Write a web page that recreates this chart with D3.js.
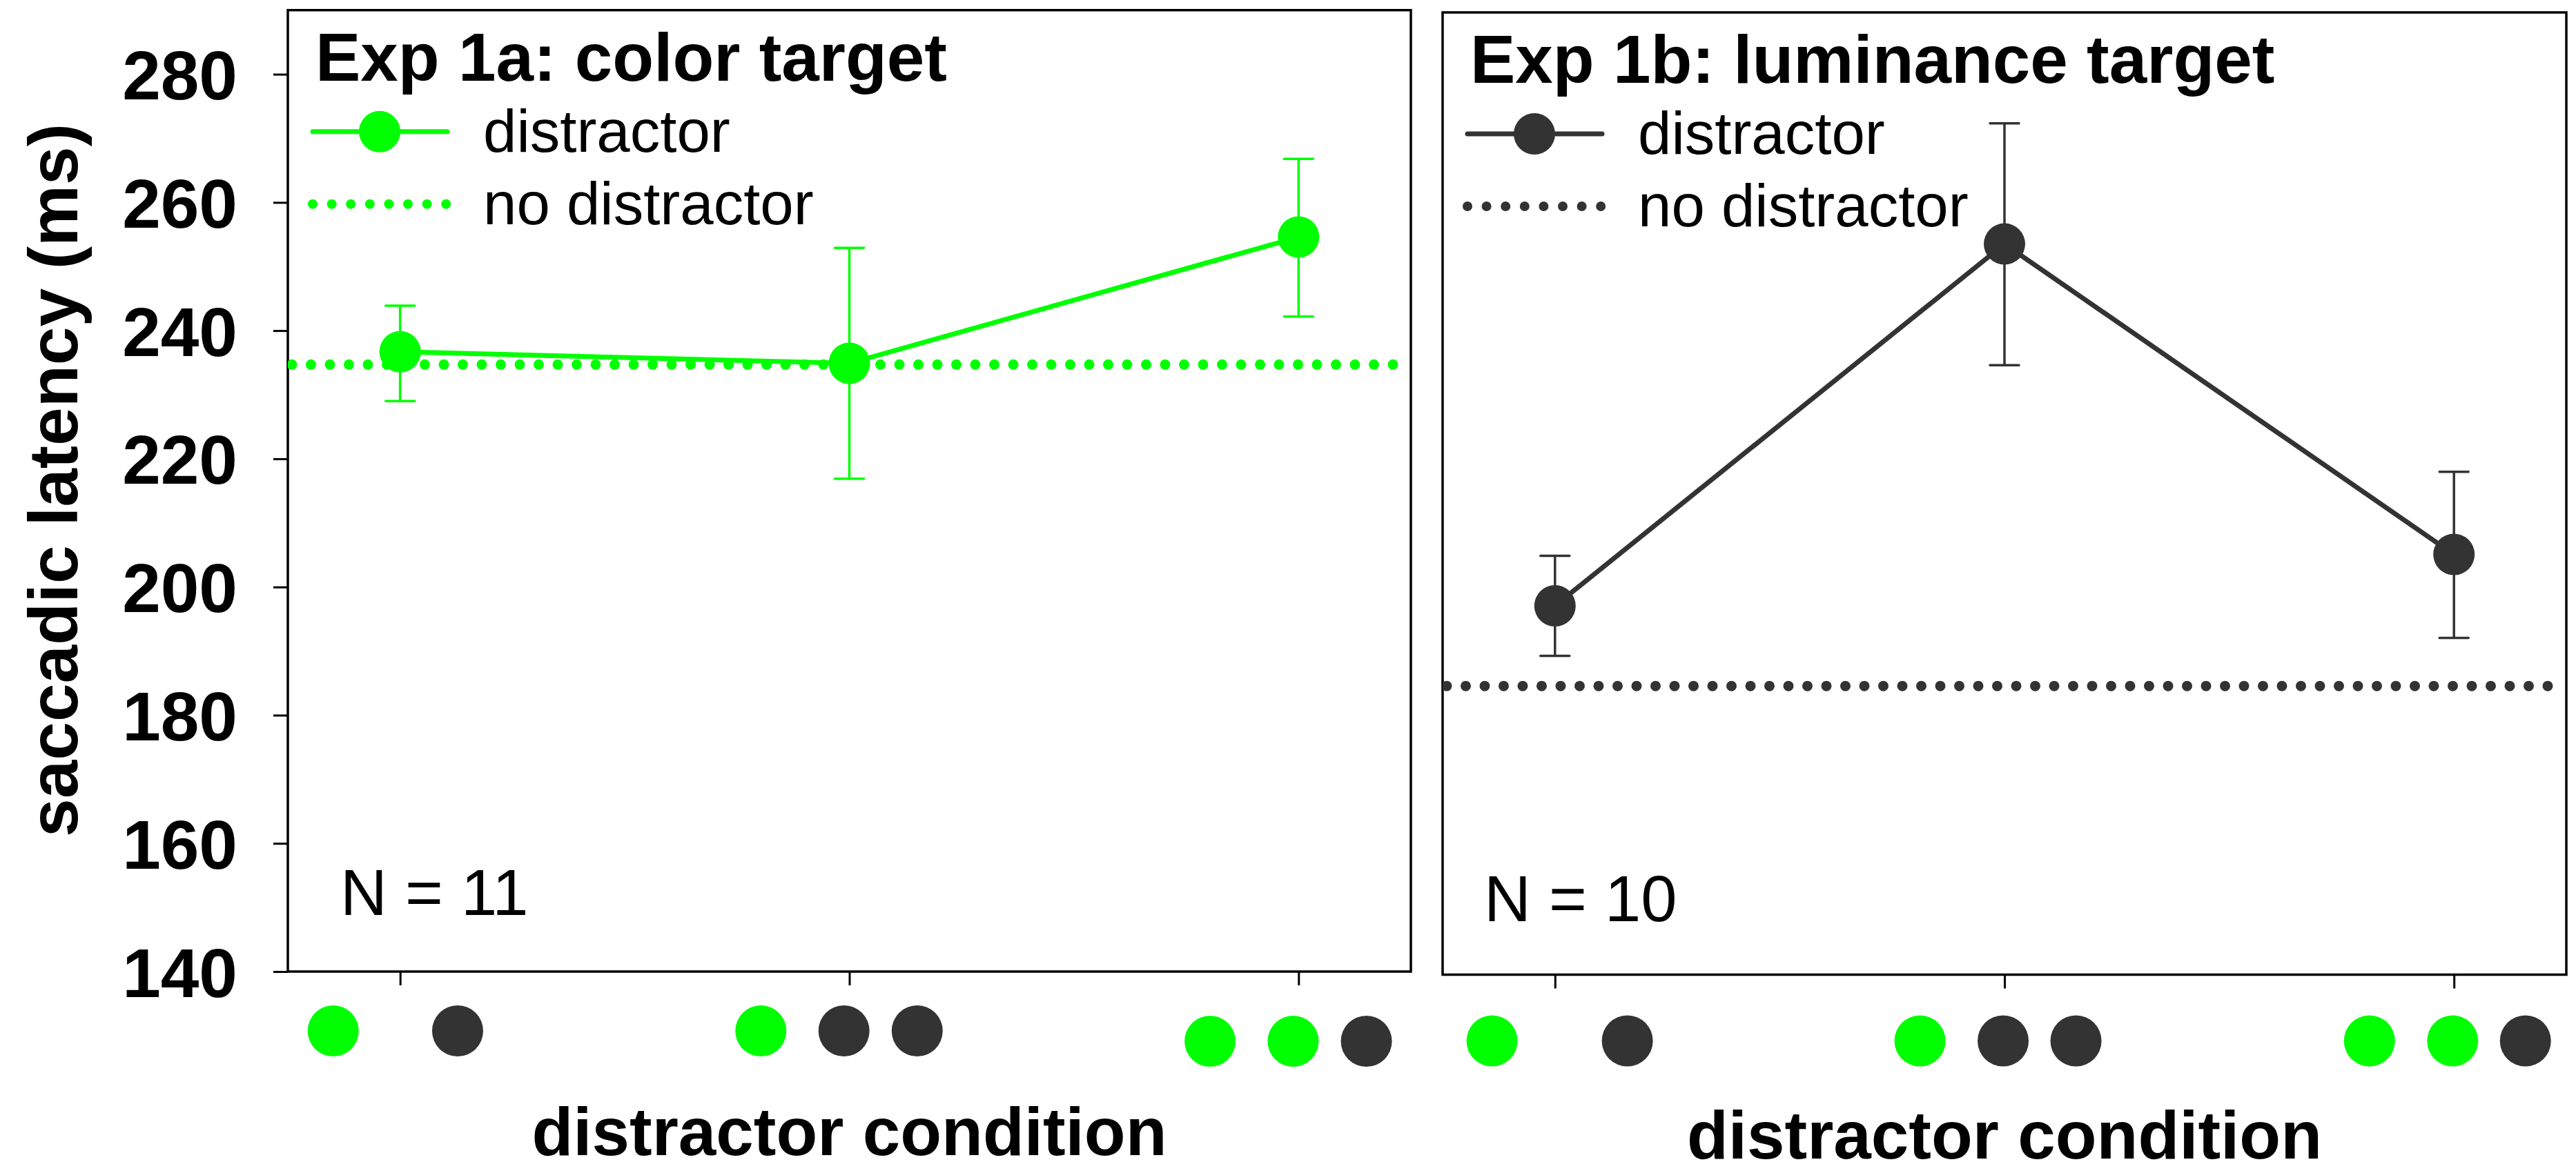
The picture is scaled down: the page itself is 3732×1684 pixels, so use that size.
<!DOCTYPE html>
<html>
<head>
<meta charset="utf-8">
<script src="https://cdn.jsdelivr.net/npm/d3@7"></script>
<style>
  body { margin: 0; background: #fff; }
  text { font-family: "Liberation Sans", Arial, sans-serif; }
</style>
</head>
<body>
<div id="chart"></div>
<script>
// Data
const conditions = [1, 2, 3];
const yTicks = [140, 160, 180, 200, 220, 240, 260, 280];

// Exp 1a: color target (N = 11)
const colorMean = [236.7, 234.9, 254.6];
const colorLow = [229.0, 216.9, 242.2];
const colorHigh = [243.9, 252.9, 266.8];
const colorNoDistractor = 234.7;

// Exp 1b: luminance target (N = 10)
const lumMean = [197.5, 253.9, 205.5];
const lumLow = [189.7, 235.0, 192.5];
const lumHigh = [205.3, 272.7, 218.4];
const lumNoDistractor = 185.0;

// Icons under each condition: g = green disc, d = dark disc
const conditionIcons = ["gd", "gdd", "ggd"];

const GREEN = "#00ff00", DARK = "#333333";

const width = 3732, height = 1684;

const svg = d3.select("#chart")
    .append("svg")
    .attr("width", width)
    .attr("height", height);

// Panel layout
const panels = [
    {
        left: 417, right: 2044, top: 14.7, bottom: 1408,
        title: "Exp 1a: color target", n: "N = 11", nX: 76, nY: 82,
        color: GREEN, mean: colorMean, low: colorLow, high: colorHigh, base: colorNoDistractor,
        showY: true,
        slots: [[-0.149, 0.128], [-0.197, -0.012, 0.151], [-0.197, -0.012, 0.151]],
        iconDy: [86, 86, 101]
    },
    {
        left: 2090, right: 3718, top: 18, bottom: 1412.5,
        title: "Exp 1b: luminance target", n: "N = 10", nX: 60, nY: 78,
        color: DARK, mean: lumMean, low: lumLow, high: lumHigh, base: lumNoDistractor,
        showY: false,
        slots: [[-0.14, 0.161], [-0.188, -0.003, 0.159], [-0.188, -0.003, 0.159]],
        iconDy: [96, 96, 96]
    }
];

panels.forEach(p => {
    const x = d3.scaleLinear().domain([0.75, 3.25]).range([p.left, p.right]);
    const y = d3.scaleLinear().domain([140, 290]).range([p.bottom, p.top]);
    const g = svg.append("g");

    const clipId = "clip" + p.left;
    svg.append("clipPath").attr("id", clipId)
        .append("rect")
        .attr("x", p.left).attr("y", p.top)
        .attr("width", p.right - p.left).attr("height", p.bottom - p.top);

    // y axis
    if (p.showY) {
        const yAxis = g.append("g")
            .attr("transform", `translate(${p.left},0)`)
            .call(d3.axisLeft(y).tickValues(yTicks).tickSize(21).tickSizeOuter(0).tickPadding(52));
        yAxis.select(".domain").remove();
        yAxis.selectAll("line").attr("stroke", "#000").attr("stroke-width", 3);
        yAxis.selectAll("text")
            .attr("font-family", "Liberation Sans, Arial, sans-serif")
            .attr("font-size", 100)
            .attr("font-weight", "bold")
            .attr("fill", "#000")
            .attr("dy", "0.36em");
    }

    // x axis ticks
    const xAxis = g.append("g")
        .attr("transform", `translate(0,${p.bottom})`)
        .call(d3.axisBottom(x).tickValues(conditions).tickSize(20).tickSizeOuter(0).tickFormat(""));
    xAxis.select(".domain").remove();
    xAxis.selectAll("line").attr("stroke", "#000").attr("stroke-width", 3);

    // frame
    g.append("rect")
        .attr("x", p.left).attr("y", p.top)
        .attr("width", p.right - p.left).attr("height", p.bottom - p.top)
        .attr("fill", "none")
        .attr("stroke", "#000")
        .attr("stroke-width", 3.5);

    // no distractor baseline (dotted)
    g.append("line")
        .attr("clip-path", `url(#${clipId})`)
        .attr("x1", x(0.75) + 6).attr("x2", x(3.25))
        .attr("y1", y(p.base)).attr("y2", y(p.base))
        .attr("stroke", p.color)
        .attr("stroke-width", 15)
        .attr("stroke-linecap", "round")
        .attr("stroke-dasharray", "0 27.5");

    // connecting line
    const pts = conditions.map((c, i) => ({ c: c, m: p.mean[i], lo: p.low[i], hi: p.high[i] }));
    g.append("path")
        .datum(pts)
        .attr("fill", "none")
        .attr("stroke", p.color)
        .attr("stroke-width", 7)
        .attr("d", d3.line().x(d => x(d.c)).y(d => y(d.m)));

    // error bars
    pts.forEach(d => {
        const cx = x(d.c);
        g.append("line")
            .attr("x1", cx).attr("x2", cx)
            .attr("y1", y(d.lo)).attr("y2", y(d.hi))
            .attr("stroke", p.color).attr("stroke-width", 3.5);
        [d.lo, d.hi].forEach(v => {
            g.append("line")
                .attr("x1", cx - 21).attr("x2", cx + 21)
                .attr("y1", y(v)).attr("y2", y(v))
                .attr("stroke", p.color).attr("stroke-width", 3.5)
                .attr("stroke-linecap", "round");
        });
    });

    // markers
    g.selectAll(".pt")
        .data(pts)
        .enter()
        .append("circle")
        .attr("cx", d => x(d.c))
        .attr("cy", d => y(d.m))
        .attr("r", 30)
        .attr("fill", p.color);

    // title
    g.append("text")
        .attr("x", p.left + 40)
        .attr("y", p.top + 102)
        .attr("font-size", 98)
        .attr("font-weight", "bold")
        .text(p.title);

    // legend
    const lx = p.left + 33, ly1 = p.top + 176, ly2 = p.top + 281;
    g.append("line")
        .attr("x1", lx + 3).attr("x2", lx + 198)
        .attr("y1", ly1).attr("y2", ly1)
        .attr("stroke", p.color).attr("stroke-width", 7)
        .attr("stroke-linecap", "round");
    g.append("circle")
        .attr("cx", lx + 100).attr("cy", ly1).attr("r", 30)
        .attr("fill", p.color);
    g.append("line")
        .attr("x1", lx + 3).attr("x2", lx + 200)
        .attr("y1", ly2).attr("y2", ly2)
        .attr("stroke", p.color).attr("stroke-width", 14)
        .attr("stroke-linecap", "round")
        .attr("stroke-dasharray", "0 27.6");
    g.append("text")
        .attr("x", p.left + 283).attr("y", p.top + 205)
        .attr("font-size", 87)
        .text("distractor");
    g.append("text")
        .attr("x", p.left + 283).attr("y", p.top + 310)
        .attr("font-size", 87)
        .text("no distractor");

    // N label
    g.append("text")
        .attr("x", p.left + p.nX)
        .attr("y", p.bottom - p.nY)
        .attr("font-size", 94)
        .text(p.n);

    // condition icons
    conditionIcons.forEach((code, i) => {
        code.split("").forEach((k, j) => {
            g.append("circle")
                .attr("cx", x(conditions[i] + p.slots[i][j]))
                .attr("cy", p.bottom + p.iconDy[i])
                .attr("r", 37)
                .attr("fill", k === "g" ? GREEN : DARK);
        });
    });

    // x axis label
    g.append("text")
        .attr("x", (p.left + p.right) / 2)
        .attr("y", p.bottom + 266)
        .attr("text-anchor", "middle")
        .attr("font-size", 98)
        .attr("font-weight", "bold")
        .text("distractor condition");
});

// y axis label
svg.append("text")
    .attr("transform", "translate(112,696) rotate(-90)")
    .attr("text-anchor", "middle")
    .attr("font-size", 100)
    .attr("font-weight", "bold")
    .text("saccadic latency (ms)");
</script>
</body>
</html>
